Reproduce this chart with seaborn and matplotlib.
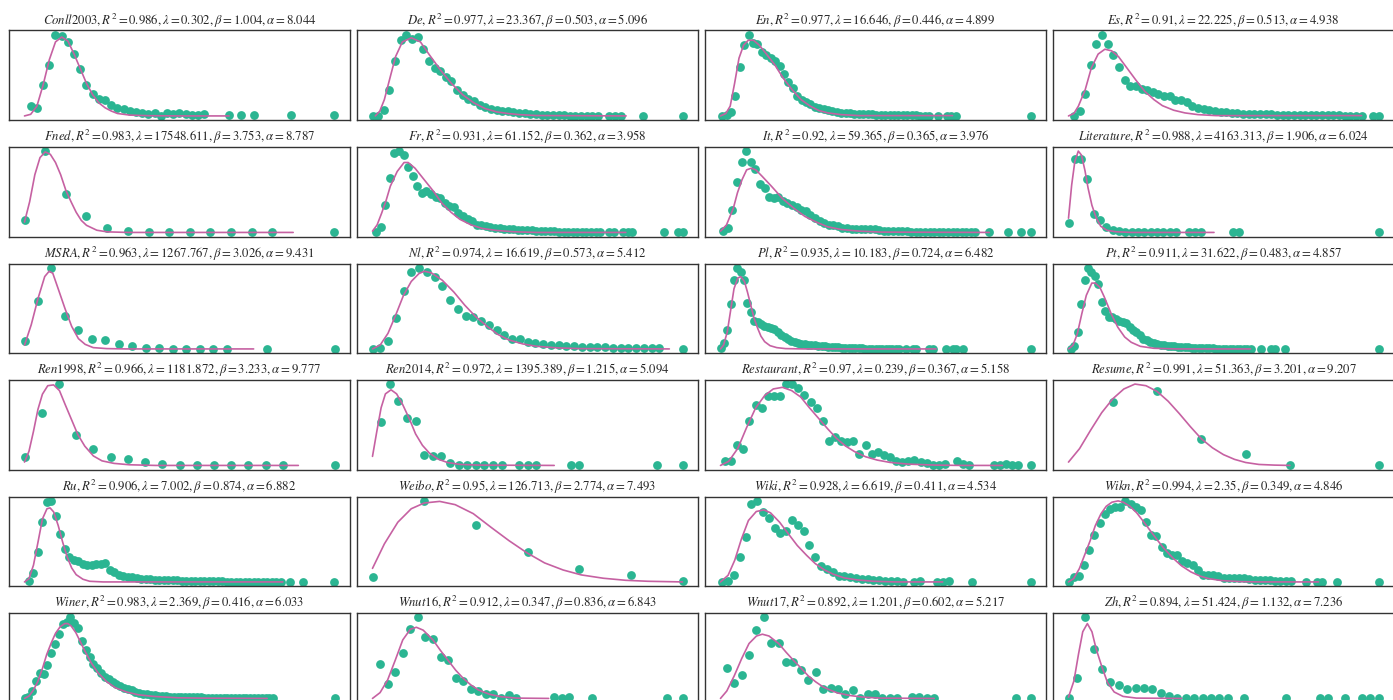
import numpy as np
import pandas as pd
import seaborn as sns
import matplotlib.pyplot as plt

# ---- data (x = length bin, y = share of the peak, %) ----
conll_x = list(range(1, 30)) + [33, 35, 37, 43, 50]
conll_y = [12, 10, 38, 62, 100, 98, 91, 76, 58, 38, 27, 21, 19, 13, 10, 9, 6, 5, 3, 2,
           4, 0.5, 3, 2, 3, 2, 1, 1, 2, 1, 1, 1, 1, 1]
conll_fx = [0, 1, 2, 3, 4, 5, 6, 7, 8, 9, 10, 11, 12, 13, 14, 15, 16, 17, 20, 25, 33]
conll_fy = [0, 2, 12, 38, 69, 91, 97, 92, 76, 58, 40, 26, 16, 10, 6, 3, 2, 1, 0.3, 0, 0]

de_x = list(range(1, 42)) + [43, 44, 45, 49, 56]
de_y = [0, 0.5, 7, 32, 67, 93, 100, 94, 97, 82, 67, 59, 55, 48, 43, 32, 26, 21, 18, 14,
        11, 9, 7, 6.5, 6, 4.5, 3.3, 3, 2.5, 2, 1.2, 1.2, 0.8, 0.8, 0.8, 0.5, 0.5, 0.5, 0.5, 0.5,
        0.5, 0.3, 0.3, 0.3, 0.3, 0.3]
de_fx = [1.5, 2.3, 3.1, 4.3, 5.1, 6.3, 7.9, 9.5, 11.1, 13.1, 15, 17, 19, 21, 23, 25, 27, 30, 46]
de_fy = [0, 6, 20, 52, 73, 91, 96, 91, 75, 56, 40, 26, 16, 9, 5, 3, 1.6, 0.5, 0]

en_x = list(range(1, 49)) + [50, 52, 53, 54, 71]
en_y = [0, 1.6, 4.5, 24, 60, 87, 100, 90, 89, 79, 75, 71, 68, 61, 52, 42, 34, 24, 20, 17,
        15, 11, 10, 8.5, 7, 5.7, 4.9, 4, 3.7, 3.3, 2.8, 2.4, 2, 2, 1.8, 1.6, 1.5, 1.4, 1.2, 1,
        1, 0.8, 0.8, 0.6, 0.6, 0.5, 0.4, 0.4, 0.3, 0.3, 0.3, 0.3, 0.3]
en_fx = [0.6, 1.8, 2.8, 3.8, 4.8, 5.85, 6.9, 8.1, 9.4, 10.9, 12.9, 14.9, 16.9, 18.9, 21, 23, 25, 28, 32, 53.3]
en_fy = [0, 3, 12, 40, 71, 87, 93, 93, 87, 77, 63, 46, 32, 20, 12, 6.5, 3.7, 1.6, 0.4, 0.4]

es_x = list(range(1, 53)) + [54, 55]
es_y = [0.4, 5.7, 27, 63, 89, 100, 89, 75, 60, 44, 37, 37, 33, 32, 29, 27, 25, 25, 20, 19,
        17, 12, 10, 8.5, 7, 5.7, 4.9, 4.5, 3.7, 3.3, 2.8, 2.6, 2.4, 2.2, 2, 1.8, 1.6, 1.5, 1.4, 1.2,
        1.1, 1, 0.9, 0.8, 0.8, 0.7, 0.6, 0.6, 0.5, 0.5, 0.4, 0.4, 0.4, 0.4]
es_fx = [0.05, 1, 1.8, 3, 4.1, 5.3, 6.5, 7.7, 8.9, 10.4, 12, 13.6, 15.2, 16.7, 18.7, 20.7, 23, 26.2, 52]
es_fy = [0, 3, 12, 32, 59, 76, 82, 80, 73, 59, 44, 30, 20, 12.6, 7, 3.7, 1.6, 0.4, 0.4]

fned_x = list(range(1, 14)) + [16]
fned_y = [15, 100, 48, 21, 6, 2.5, 1, 1, 0.3, 0.3, 0.3, 0.3, 0.3, 0.3]
fned_fx = [1, 1.25, 1.5, 1.75, 2, 2.25, 2.5, 2.75, 3, 3.25, 3.5, 3.75, 4, 4.5, 5, 6, 14]
fned_fy = [13, 38, 71, 92, 99, 96, 86, 71, 52, 38, 25, 15, 9, 3, 1, 0.3, 0.3]

fr_x = list(range(1, 51)) + [52, 53, 55, 56, 57, 64, 67, 68]
fr_y = [1.2, 7.4, 34, 67, 98, 100, 95, 81, 69, 57, 49, 51, 47, 44, 42, 36, 33, 32, 24, 20,
        17, 14, 10, 9.5, 8, 7.4, 6, 5.3, 5, 4.5, 4, 3.7, 3.3, 3, 2.8, 2.5, 2.3, 2, 1.8, 1.6,
        1.4, 1.2, 1, 1, 0.8, 0.8, 0.6, 0.6, 0.5, 0.5, 0.4, 0.4, 0.4, 0.4, 0.4, 0.4, 0.4, 0.4]
fr_fx = [0.2, 1.2, 2.2, 3.2, 4.1, 5.6, 7.1, 8, 9.5, 11.5, 13.5, 15.4, 17.4, 19.3, 21.8, 24.2, 27.2, 31.1, 36, 55.6]
fr_fy = [2, 9.5, 24, 40, 57, 75, 86, 86, 79, 65, 51, 36, 25, 16.5, 9.5, 5.3, 2.9, 1.2, 0.4, 0.4]

it_x = list(range(1, 57)) + [59, 63, 66, 68]
it_y = [2, 5.3, 28, 62, 87, 100, 87, 78, 60, 55, 44, 43, 44, 39, 37, 34, 32, 28, 27, 22,
        18, 14, 11.5, 10, 9.5, 8.2, 6.2, 5.3, 4.5, 4.5, 4.5, 4, 4.5, 4, 2.9, 2.5, 2.3, 2.1, 2, 1.8,
        1.6, 1.5, 1.4, 1.3, 1.2, 1.1, 1, 0.9, 0.8, 0.7, 0.6, 0.6, 0.5, 0.5, 0.4, 0.4,
        0.4, 0.4, 0.4, 0.4]
it_fx = [0.4, 1.7, 3.2, 4.1, 5.1, 6.1, 7.1, 8.1, 9.5, 11.5, 13.9, 16.4, 18.8, 21.3, 23.7, 26.7, 30.6, 35.5, 59]
it_fy = [2, 9.5, 30, 49, 65, 77, 79, 77, 69, 57, 42, 30, 20, 13, 7.4, 4, 2, 0.8, 0.4]

lit_x = list(range(1, 19)) + [20, 21, 22, 27, 28, 50]
lit_y = [11.5, 91, 91, 66, 23, 16, 7.4, 4, 2.5, 1.2, 1.2, 1.2, 1.2, 0.4, 0.4, 0.4, 0.4, 0.4,
         0.4, 0.4, 0.4, 0.4, 0.4, 0.4]
lit_fx = [1, 1.5, 2, 2.55, 3.05, 3.6, 4.1, 4.7, 5.4, 6.1, 7.1, 8.5, 11, 24]
lit_fy = [18, 59, 88, 101, 96, 77, 55, 34, 18, 8, 3, 1.2, 0.4, 0.4]

msra_x = list(range(1, 17)) + [19, 24]
msra_y = [10, 59, 100, 41, 24, 12.6, 11.4, 7, 4, 2, 1.2, 0.4, 0.4, 0.4, 0.4, 0.4, 0.4, 0.4]
msra_fx = [1, 1.5, 2, 2.5, 2.83, 3.1, 3.5, 4, 4.5, 5, 5.5, 6.1, 7.1, 8.5, 18]
msra_fy = [5, 30, 62, 89, 95.5, 93, 74, 50, 28, 13, 6, 2, 0.8, 0.4, 0.4]

nl_x = list(range(1, 39)) + [41]
nl_y = [0.4, 1.2, 10, 38, 71, 94, 100, 94, 89, 78, 60, 49, 41, 39, 35, 30, 24, 17, 13, 12.6,
        9.3, 7.3, 6, 5.3, 5.3, 4.5, 4.5, 3.3, 3, 2.8, 2.4, 2, 2, 1.6, 1.6, 1.2, 1.2, 1.2, 0.4]
nl_fx = [1, 2, 3, 4, 5, 6, 7, 7.7, 8.6, 10, 11.5, 12.9, 14.3, 15.8, 17.2, 18.6, 20.4, 22.1, 25, 27.8, 39.3]
nl_fy = [0.4, 5.3, 19.5, 42, 66, 83, 92.7, 95.5, 93.5, 84.5, 70, 54, 40, 28, 18, 11.4, 6.5, 3.7, 1.6, 0.8, 0.4]

pl_x = list(range(1, 55)) + [56, 58, 59, 63, 64, 68, 70, 71, 73, 93]
pl_y = [1.2, 7.3, 23, 55, 85, 100, 95, 85, 57, 45, 34, 33, 31, 29, 27, 26, 25, 21, 18, 15,
        12, 10, 9.3, 8, 6.5, 6, 5.2, 5.2, 4.8, 4.4, 4, 3.6, 3.2, 2.8, 2.5, 2.2, 2, 1.8, 1.6, 1.4,
        1.2, 1.1, 1, 0.9, 0.8, 0.8, 0.7, 0.7, 0.6, 0.6, 0.5, 0.5, 0.4, 0.4,
        0.4, 0.4, 0.4, 0.4, 0.4, 0.4, 0.4, 0.4, 0.4, 0.4]
pl_fx = [1, 1.9, 3, 4.1, 5, 6.1, 7, 8.1, 9, 10.1, 11, 12.1, 13, 14.1, 15.7, 17.7, 20.3, 25.7, 65]
pl_fy = [0.4, 5, 21, 50, 74, 87, 89, 83, 70, 52, 37.5, 25, 16, 9.3, 4.4, 2, 0.8, 0.4, 0.4]

pt_x = list(range(1, 54)) + [56, 59, 60, 63, 90]
pt_y = [0.4, 4.4, 21, 55, 85, 100, 94, 90, 80, 58, 47, 40, 39, 37, 35, 33, 32, 27, 24, 21,
        17, 13, 11, 9.3, 8, 6, 5.2, 4.8, 4.4, 4, 3.6, 3.2, 2.8, 2.5, 2.2, 2, 1.8, 1.6, 1.4, 1.2,
        1.1, 1, 0.9, 0.8, 0.8, 0.7, 0.6, 0.6, 0.5, 0.5, 0.4, 0.4, 0.4,
        0.4, 0.4, 0.4, 0.4, 0.4]
pt_fx = [0.35, 1.65, 2.9, 4.2, 5.5, 7.1, 8.1, 9.4, 10.7, 12.7, 14.6, 16.6, 18.5, 21.1, 25, 31.5, 53]
pt_fy = [0.4, 5, 19, 43.5, 66, 81, 81, 76, 64, 43.5, 27, 15, 8.5, 3.6, 1.2, 0.4, 0.4]

r98_x = list(range(1, 17)) + [19]
r98_y = [10.7, 65, 100, 38, 20, 10.7, 8.6, 4.9, 2, 1.2, 1.2, 0.4, 0.4, 0.4, 0.4, 0.4, 0.4]
r98_fx = [1, 1.26, 1.52, 1.78, 2.04, 2.35, 2.69, 3.03, 3.36, 3.72, 4.1, 4.5, 5, 5.5, 6.2, 7.1, 8.6, 16.9]
r98_fy = [4.5, 17.7, 42, 69, 87.6, 98, 99, 92, 75, 57, 38, 24, 12, 6, 2.9, 1.2, 0.4, 0.4]

r14_x = list(range(1, 16)) + [17, 18, 19, 23, 24, 33, 36]
r14_y = [53.5, 100, 79, 58, 55, 13.6, 11.5, 11.5, 3.3, 1.2, 1.2, 0.4, 0.4, 0.4, 0.4,
         0.4, 0.4, 0.4, 0.4, 0.4, 0.4, 0.4]
r14_fx = [0, 0.5, 1, 1.5, 2.15, 2.8, 3.5, 4.3, 5, 5.8, 6.6, 7.6, 8.7, 10.2, 12.3, 21.1]
r14_fy = [11.5, 42, 71, 88, 93, 88, 75, 57, 39, 25, 15.6, 8.2, 4, 1.6, 0.8, 0.4]

rest_x = list(range(1, 38)) + [39, 40, 41, 45, 46, 47, 48, 49, 51]
rest_y = [5, 6, 25, 20, 55, 74, 70, 85, 85, 85, 100, 100, 95, 86, 77.5, 70.5, 54, 30, 35, 29.5,
          28.7, 29.5, 14, 24.6, 14, 16.4, 12.3, 9.8, 5, 4, 6, 7, 4, 3.3, 0.8, 0.8, 1.6,
          5, 1.6, 0.8, 0.8, 0.8, 1.6, 0.8, 0.8, 0.8]
rest_fx = [0.26, 1.6, 3.1, 4.5, 6, 7.5, 8.9, 10.4, 11.9, 13.4, 14.8, 16.3, 17.8, 19.2, 20.7, 22.2,
           24, 25.9, 28, 31, 35.4, 39.8, 46.4]
rest_fy = [0, 5, 21, 46, 70.5, 86, 94, 96, 92, 84, 71, 58, 45, 33.6, 24, 17, 10.7, 6.6, 3.7, 1.6, 0.4, 0, 0]

res_x = [1, 2, 3, 4, 5, 7]
res_y = [78.6, 91, 32.5, 14, 0.4, 0.4]
res_fx = [0, 0.25, 0.5, 0.75, 1, 1.25, 1.5, 1.75, 2, 2.25, 2.5, 2.75, 3, 3.25, 3.5, 3.75, 4, 4.3, 4.65, 5]
res_fy = [4.5, 21, 43.6, 65, 82, 94, 100, 98, 91, 79, 64, 48, 33, 22, 13.6, 7.8, 4, 1.6, 0.8, 0.4]

ru_x = list(range(1, 58)) + [59, 62, 69]
ru_y = [1.2, 11.8, 37, 73.6, 98.8, 100, 80.5, 59, 41, 31, 27, 25.6, 22, 21.5, 21.5, 22, 22.8, 24, 14.6, 12.6,
        9.3, 7.7, 6.5, 6.5, 5.3, 4.5, 4.1, 3.7, 3.3, 3, 2.8, 2.6, 2.4, 2.2, 2, 1.8, 1.6, 1.5, 1.4, 1.2,
        1.2, 1.1, 1, 1, 0.9, 0.9, 0.8, 0.8, 0.7, 0.7, 0.6, 0.6, 0.5, 0.5, 0.4, 0.4, 0.4,
        0.4, 0.4, 0.4]
ru_fx = [0, 1, 2, 3, 4, 5, 5.7, 6.5, 7.5, 8.5, 9.5, 10.5, 11.5, 13, 14.5, 17.5, 57.5]
ru_fy = [0.4, 4.5, 21, 49, 77.6, 90, 91, 86, 69.5, 49, 31, 17.5, 9.3, 3.7, 1.2, 0.4, 0.4]

wb_x = [1, 2, 3, 4, 5, 6, 7]
wb_y = [6, 100, 70, 36.7, 16.3, 9.4, 1.6]
wb_fx = [1, 1.23, 1.49, 1.75, 2, 2.3, 2.6, 2.95, 3.3, 3.64, 3.99, 4.33, 4.69, 5.04, 5.47, 5.9, 6.33, 7]
wb_fy = [17, 47, 73.5, 90, 97, 99, 95, 84, 67, 51, 36, 23.7, 15, 9, 4.9, 2.4, 1.2, 0.4]

wiki_x = list(range(1, 33)) + [34, 35, 38, 39, 40, 44, 54]
wiki_y = [0.4, 2, 8.5, 31, 55, 96, 100, 86, 78.5, 66.7, 60, 63, 76, 69.5, 63, 46, 31, 20, 16.7, 12.6,
          7.7, 7.7, 6.5, 5.3, 4.5, 3.7, 2.8, 2.8, 2, 1.2, 1.2, 0.4,
          0.4, 1.2, 0.4, 0.4, 1.2, 0.4, 0.4]
wiki_fx = [0.7, 2, 3.15, 4.3, 5.5, 6.85, 8.15, 9.3, 10.85, 12.4, 13.9, 15.5, 17, 18.5, 20.1, 22, 24.3, 27, 30.8, 38.9]
wiki_fy = [0.4, 8.5, 27, 53, 75.6, 86.6, 88.6, 85, 73.6, 59, 45, 33, 22.8, 15.4, 9.8, 5.3, 2.8, 1.2, 0.4, 0.4]

wikn_x = list(range(1, 45)) + [47, 49, 50, 53, 61]
wikn_y = [0.4, 6.5, 7.3, 21.5, 39, 58, 72, 84, 90, 92, 92, 100, 96, 92, 88, 73.6, 58, 57, 43, 36,
          33.7, 33, 25.6, 24, 21.5, 14.6, 9.3, 8.5, 8.5, 7.7, 5.3, 5.3, 5.3, 5.3, 5.3, 3.7,
          3.3, 3, 2.8, 2.4, 2, 1.6, 1.4, 1.2, 0.4, 0.4, 0.4, 0.4, 0.4]
wikn_fx = [1, 2, 3.1, 4.1, 5.2, 6.2, 7.3, 8.3, 9.4, 10.6, 11.6, 12.9, 14.2, 15.5, 16.8, 18.1, 19.4,
           21.2, 22.9, 24.7, 26.4, 28.1, 30.7, 34.2, 37.7, 49.4]
wikn_fy = [0.4, 4.5, 16.7, 33, 51, 69.5, 84, 93, 98, 99.6, 98, 93, 85, 74.4, 63.4, 52.4, 42,
           29.7, 20, 12.6, 7.7, 4.5, 2, 0.8, 0.4, 0.4]

winer_x = list(range(1, 67)) + [82]
winer_y = [0, 1.6, 9, 22, 31.5, 29.5, 41, 56, 67, 79.5, 91, 94, 100, 93, 86, 71, 60, 51, 42.6, 37,
           31.5, 26, 23.4, 20.5, 18, 15, 13, 11, 9.8, 8.2, 7, 6, 5.3, 4.5, 4, 3.5, 3, 2.6, 2.3, 2,
           1.8, 1.7, 1.6, 1.5, 1.4, 1.3, 1.2, 1.1, 1, 1, 0.9, 0.9, 0.8, 0.8, 0.7, 0.7, 0.6, 0.6,
           0.5, 0.5, 0.4, 0.4, 0.3, 0.3, 0.2, 0.2, 0.2]
winer_fx = [1, 2.2, 3.3, 4.5, 5.7, 6.8, 8, 9.1, 10.3, 11.5, 12.3, 13.2, 14.4, 15.5, 16.7, 18.4, 20.2,
            22.5, 24.8, 27.7, 30.7, 34.7, 41.1, 46.9, 64.4]
winer_fy = [0, 3, 10, 21, 37, 54, 68.4, 80, 88, 92, 92, 89, 81, 70.5, 59, 44, 31.5, 20.5, 13, 7.8,
            4.5, 2.5, 0.8, 0.4, 0]

w16_x = list(range(1, 20)) + [24, 25, 26, 29, 39, 41]
w16_y = [42, 18, 33, 56, 86, 100, 76, 72.6, 51, 47.7, 25, 22, 11.6, 9.5, 6.2, 5.4, 0.4, 4.6, 0.4,
         2, 0.4, 2, 0.4, 0.4, 0.4]
w16_fx = [0, 1, 2, 3, 4, 5, 5.8, 6.7, 8, 9, 10, 11, 12, 13, 14, 15.5, 17, 19.1, 23.3]
w16_fy = [0.4, 7.5, 23, 47, 72, 85, 87.5, 84, 72, 59, 47, 35, 25, 17, 10.8, 5.4, 2.5, 0.8, 0.4]

w17_x = list(range(1, 25)) + [26, 27, 28, 29, 40, 42]
w17_y = [37.8, 18.7, 29.5, 54, 84, 100, 68.5, 68.5, 45.6, 44.8, 35.7, 22.8, 32.4, 12.4, 13.7, 11.6,
         5.4, 10.4, 1.2, 6.2, 6.2, 0.4, 1.2, 1.2, 2, 2, 1.2, 1.2, 0.4, 0.4]
w17_fx = [0.15, 1, 2, 3, 4, 5, 5.8, 6.7, 8, 9, 10, 11, 12, 13, 14, 15, 16, 17.6, 19.4, 21.8, 29]
w17_fy = [0.4, 9.5, 28, 49, 67.6, 76.8, 79, 76.8, 67.6, 57, 47, 37.8, 28, 20.7, 14.5, 10.4, 7, 4, 2, 0.8, 0.4]

zh_x = list(range(1, 21)) + [22, 27, 31, 32, 34, 36, 37, 38]
zh_y = [0.4, 25, 100, 61, 37, 20, 17, 11.6, 13.7, 13.7, 12.4, 7.5, 3.3, 0.4, 0.4, 0.4, 0.4, 0.4,
        0.4, 0.4, 0.4, 0.4, 0.4, 0.4, 0.4, 0.4, 0.4, 0.4]
zh_fx = [1, 1.65, 2.2, 2.7, 3.25, 3.8, 4.3, 5, 5.65, 6.45, 7.5, 9.1, 14.5]
zh_fy = [2, 22, 55, 82, 92, 82, 61, 38.6, 20, 8.3, 2.9, 0.8, 0.4]

# dataset name (italic part, plain suffix) and fitted parameters R2, lambda, beta, alpha
names = [("Conll", "2003"), ("De", ""), ("En", ""), ("Es", ""),
         ("Fned", ""), ("Fr", ""), ("It", ""), ("Literature", ""),
         ("MSRA", ""), ("Nl", ""), ("Pl", ""), ("Pt", ""),
         ("Ren", "1998"), ("Ren", "2014"), ("Restaurant", ""), ("Resume", ""),
         ("Ru", ""), ("Weibo", ""), ("Wiki", ""), ("Wikn", ""),
         ("Winer", ""), ("Wnut", "16"), ("Wnut", "17"), ("Zh", "")]
r2 = ["0.986", "0.977", "0.977", "0.91", "0.983", "0.931", "0.92", "0.988",
      "0.963", "0.974", "0.935", "0.911", "0.966", "0.972", "0.97", "0.991",
      "0.906", "0.95", "0.928", "0.994", "0.983", "0.912", "0.892", "0.894"]
lam = ["0.302", "23.367", "16.646", "22.225", "17548.611", "61.152", "59.365", "4163.313",
       "1267.767", "16.619", "10.183", "31.622", "1181.872", "1395.389", "0.239", "51.363",
       "7.002", "126.713", "6.619", "2.35", "2.369", "0.347", "1.201", "51.424"]
beta = ["1.004", "0.503", "0.446", "0.513", "3.753", "0.362", "0.365", "1.906",
        "3.026", "0.573", "0.724", "0.483", "3.233", "1.215", "0.367", "3.201",
        "0.874", "2.774", "0.411", "0.349", "0.416", "0.836", "0.602", "1.132"]
alpha = ["8.044", "5.096", "4.899", "4.938", "8.787", "3.958", "3.976", "6.024",
         "9.431", "5.412", "6.482", "4.857", "9.777", "5.094", "5.158", "9.207",
         "6.882", "7.493", "4.534", "4.846", "6.033", "6.843", "5.217", "7.236"]

points = [(conll_x, conll_y), (de_x, de_y), (en_x, en_y), (es_x, es_y),
          (fned_x, fned_y), (fr_x, fr_y), (it_x, it_y), (lit_x, lit_y),
          (msra_x, msra_y), (nl_x, nl_y), (pl_x, pl_y), (pt_x, pt_y),
          (r98_x, r98_y), (r14_x, r14_y), (rest_x, rest_y), (res_x, res_y),
          (ru_x, ru_y), (wb_x, wb_y), (wiki_x, wiki_y), (wikn_x, wikn_y),
          (winer_x, winer_y), (w16_x, w16_y), (w17_x, w17_y), (zh_x, zh_y)]
fits = [(conll_fx, conll_fy), (de_fx, de_fy), (en_fx, en_fy), (es_fx, es_fy),
        (fned_fx, fned_fy), (fr_fx, fr_fy), (it_fx, it_fy), (lit_fx, lit_fy),
        (msra_fx, msra_fy), (nl_fx, nl_fy), (pl_fx, pl_fy), (pt_fx, pt_fy),
        (r98_fx, r98_fy), (r14_fx, r14_fy), (rest_fx, rest_fy), (res_fx, res_fy),
        (ru_fx, ru_fy), (wb_fx, wb_fy), (wiki_fx, wiki_fy), (wikn_fx, wikn_fy),
        (winer_fx, winer_fy), (w16_fx, w16_fy), (w17_fx, w17_fy), (zh_fx, zh_fy)]

sns.set_style("white")
plt.rcParams["font.family"] = ["Liberation Serif", "DejaVu Serif"]
plt.rcParams["mathtext.fontset"] = "stix"

DOT = "#2bb592"
FIT = "#c661a2"

W, H = 1393, 700
fig = plt.figure(figsize=(W / 100, H / 100), dpi=100)

for k in range(24):
    r, c = divmod(k, 4)
    top = 30.5 + r * 116.5
    ax = fig.add_axes([(9 + c * 348) / W, (H - top - 89.5) / H, 341 / W, 89.5 / H])

    px, py = points[k]
    fx, fy = fits[k]
    sns.scatterplot(x=px, y=py, ax=ax, color=DOT, s=40, linewidth=0, zorder=2)
    sns.lineplot(x=fx, y=fy, ax=ax, color=FIT, linewidth=1.2, zorder=3)

    ax.set_xticks([])
    ax.set_yticks([])
    ax.set_xlabel("")
    ax.set_ylabel("")
    for sp in ax.spines.values():
        sp.set_color("#333333")
        sp.set_linewidth(1.0)

    name, num = names[k]
    title = (rf"$\mathit{{{name}}}{num}, R^2={r2[k]}, \lambda={lam[k]}, "
             rf"\beta={beta[k]}, \alpha={alpha[k]}$")
    ax.set_title(title, fontsize=9.2, pad=4)

fig.savefig("out.png", dpi=100)
